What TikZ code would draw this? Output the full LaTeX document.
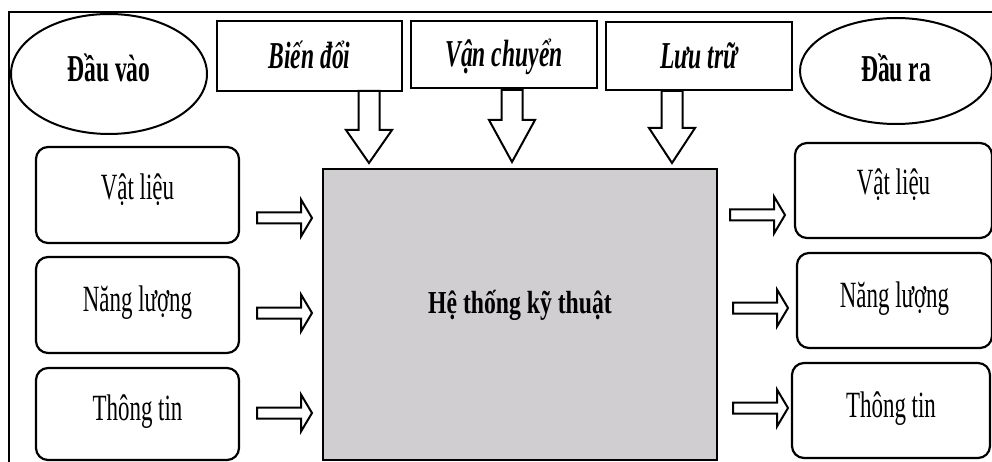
\documentclass[tikz,border=0pt]{standalone}
\usepackage{fontspec}
\setmainfont{Liberation Serif}[FakeStretch=0.62]
\newfontfamily\sysfont{Liberation Serif}[FakeStretch=0.74]
\usetikzlibrary{shapes.geometric}
\definecolor{sysgray}{RGB}{208,206,208}
\tikzset{
  rbox/.style={draw, line width=2.2pt, rounded corners=12pt, inner sep=0pt,
    font=\fontsize{37}{40}\selectfont, text height=24pt, text depth=11pt},
  tbox/.style={draw, line width=2.6pt, inner sep=0pt,
    font=\fontsize{38}{40}\selectfont\bfseries\itshape, text height=25pt, text depth=0pt},
  ell/.style={draw, ellipse, line width=2pt, inner sep=0pt,
    font=\fontsize{38}{40}\selectfont\bfseries, text height=25pt},
  pics/rarr/.style={code={
    \draw[line width=2pt, fill=white, line join=miter]
      (0,-5.5) -- (44,-5.5) -- (44,-18.5) -- (55,0) -- (44,18.5) -- (44,5.5) -- (0,5.5) -- cycle;}},
  pics/darr/.style 2 args={code={
    \draw[line width=2pt, fill=white, line join=miter]
      (-10.5,0) -- (-10.5,#1) -- (-23,#1) -- (0,#2) -- (23,#1) -- (10.5,#1) -- (10.5,0) -- cycle;}},
}
\begin{document}
\begin{tikzpicture}[x=1pt,y=-1pt]
\useasboundingbox (0,0) rectangle (992,462);
\clip (0,0) rectangle (992,462);
% frame
\draw[line width=1.6pt] (1010,12) -- (9,12) -- (9,480);
% ellipses
\node[ell, minimum width=196pt, minimum height=120pt, text depth=9pt] (in) at (109,74) {Đầu vào};
\node[ell, minimum width=192pt, minimum height=106pt, text depth=3pt] (out) at (896,71) {Đầu ra};
% top boxes
\node[tbox, minimum width=185pt, minimum height=70pt] (bd) at (309.5,56) {Biến đổi};
\node[tbox, minimum width=186pt, minimum height=67pt] (vc) at (504,54.5) {Vận chuyển};
\node[tbox, minimum width=186pt, minimum height=68pt] (lt) at (699,56) {Lưu trữ};
% central system
\node[draw, line width=2.6pt, fill=sysgray, minimum width=394pt, minimum height=291pt,
  inner sep=0pt, text height=21pt, text depth=24pt,
  font=\fontsize{32}{36}\sysfont\bfseries] (sys) at (520,314.5) {Hệ thống kỹ thuật};
% left boxes
\node[rbox, minimum width=203pt, minimum height=96pt, text depth=15pt] (l1) at (137.5,195) {Vật liệu};
\node[rbox, minimum width=203pt, minimum height=96pt] (l2) at (137.5,305) {Năng lượng};
\node[rbox, minimum width=203pt, minimum height=92pt] (l3) at (137.5,414) {Thông tin};
% right boxes
\node[rbox, minimum width=197pt, minimum height=95pt, text depth=15pt] (r1) at (893.5,190.5) {Vật liệu};
\node[rbox, minimum width=195pt, minimum height=95pt] (r2) at (894.5,300.5) {Năng lượng};
\node[rbox, minimum width=198pt, minimum height=95pt] (r3) at (891,410.5) {Thông tin};
% down block arrows
\pic at (369,91) {darr={39}{72}};
\pic at (512,90) {darr={30}{72}};
\pic at (672,91) {darr={37}{72}};
% right block arrows
\pic at (257,218) {rarr};
\pic at (257,313) {rarr};
\pic at (257,413) {rarr};
\pic at (730,215) {rarr};
\pic at (733,308) {rarr};
\pic at (733,408) {rarr};
\end{tikzpicture}
\end{document}
